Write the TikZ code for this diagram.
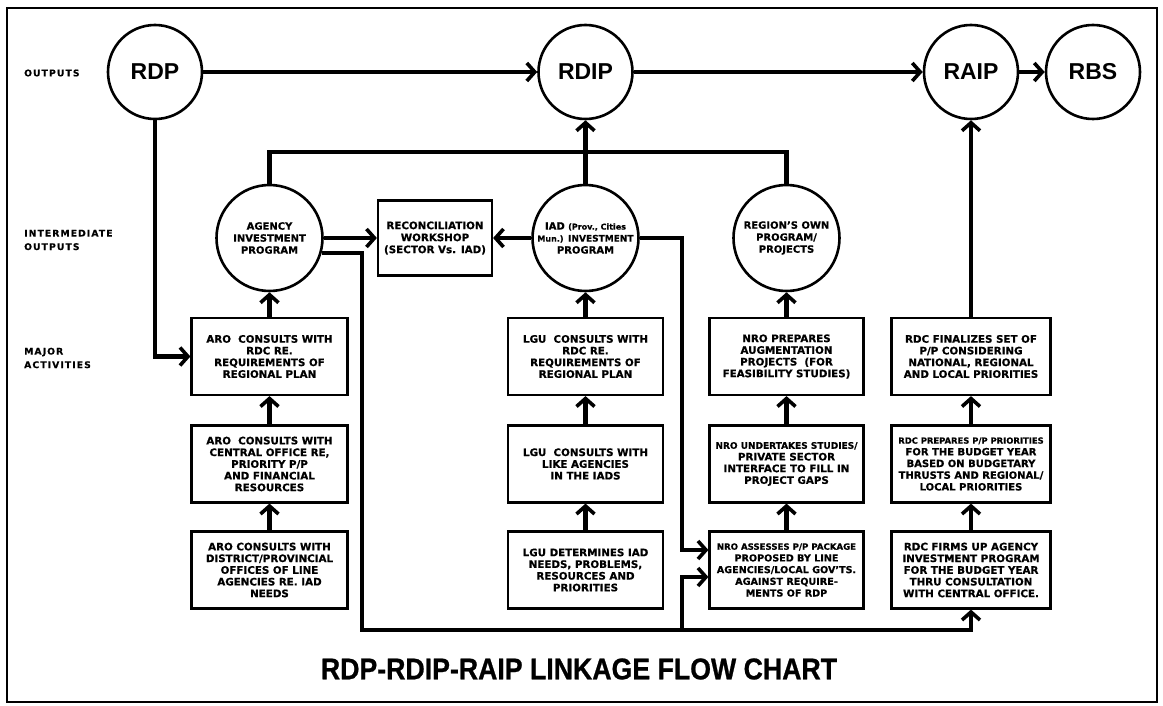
\documentclass[tikz,border=0pt]{standalone}
\usepackage{fontspec}
\setmainfont{DejaVu Sans}[BoldFeatures={FakeBold=0.7}]
\newfontfamily\circfont{Liberation Sans}
\newfontfamily\titlefont{Liberation Sans}[FakeStretch=0.89,BoldFeatures={FakeBold=0.8}]
\newfontfamily\sidefont{DejaVu Sans}[LetterSpace=12,BoldFeatures={FakeBold=0.5}]
\usetikzlibrary{arrows.meta}

\begin{document}
\begin{tikzpicture}[x=1pt,y=-1pt,
  conn/.style={line width=4.5pt,
    -{Straight Barb[length=8pt,width=18pt,line width=3.6pt]}},
  link/.style={line width=4.5pt},
  taskbox/.style={draw, line width=2.2pt, minimum width=156pt,
    minimum height=77pt, align=center, inner sep=2pt,
    font=\bfseries\fontsize{10.3}{11.7}\selectfont},
  outcircle/.style={draw, circle, line width=2.6pt, minimum size=94pt,
    inner sep=0pt, font=\circfont\bfseries\fontsize{23}{26}\selectfont},
  midcircle/.style={draw, circle, line width=2.6pt, minimum size=106pt,
    inner sep=0pt, align=center,
    font=\bfseries\fontsize{10}{12}\selectfont},
  sidelabel/.style={anchor=west, align=left, inner sep=0pt,
    font=\sidefont\bfseries\fontsize{9.2}{13.5}\selectfont},
]
\useasboundingbox (0,0) rectangle (1163,706);

% frame
\draw[line width=2pt] (7,8) rectangle (1157,702);

% row labels
\node[sidelabel] (lblout) at (24,73) {OUTPUTS};
\node[sidelabel] (lblmid) at (24,240) {INTERMEDIATE\\OUTPUTS};
\node[sidelabel] (lblmaj) at (24,358) {MAJOR\\ACTIVITIES};

% outputs
\node[outcircle] (rdp)  at (155,72)   {RDP};
\node[outcircle] (rdip) at (585.5,72) {RDIP};
\node[outcircle] (raip) at (971,72)   {RAIP};
\node[outcircle] (rbs)  at (1093,72)  {RBS};

% intermediate outputs
\node[midcircle] (agency) at (269.5,238) {AGENCY\\INVESTMENT\\PROGRAM};
\node[midcircle] (iad) at (585.5,238)
  {IAD {\fontsize{8}{12}\selectfont(Prov., Cities}\\{\fontsize{8}{12}\selectfont Mun.)}
   {\fontsize{9}{12}\selectfont INVESTMENT}\\PROGRAM};
\node[midcircle] (region) at (786.5,238) {REGION'S OWN\\PROGRAM/\\PROJECTS};
\node[draw, line width=2.2pt, minimum width=114pt, minimum height=75pt,
  align=center, inner sep=2pt, font=\bfseries\fontsize{10.3}{12}\selectfont]
  (recon) at (435,238) {RECONCILIATION\\WORKSHOP\\(SECTOR Vs. IAD)};

% major activities: agency column
\node[taskbox] (aro1) at (269.5,356.5)
  {ARO\ \ CONSULTS WITH\\RDC RE.\\REQUIREMENTS OF\\REGIONAL PLAN};
\node[taskbox] (aro2) at (269.5,464)
  {ARO\ \ CONSULTS WITH\\CENTRAL OFFICE RE,\\PRIORITY P/P\\AND FINANCIAL\\RESOURCES};
\node[taskbox] (aro3) at (269.5,570)
  {ARO CONSULTS WITH\\DISTRICT/PROVINCIAL\\OFFICES OF LINE\\AGENCIES RE. IAD\\NEEDS};

% local government column
\node[taskbox, minimum width=155pt] (lgu1) at (585.5,356.5)
  {LGU\ \ CONSULTS WITH\\RDC RE.\\REQUIREMENTS OF\\REGIONAL PLAN};
\node[taskbox, minimum width=155pt] (lgu2) at (585.5,464)
  {LGU\ \ CONSULTS WITH\\LIKE AGENCIES\\IN THE IADS};
\node[taskbox, minimum width=155pt] (lgu3) at (585.5,570)
  {LGU DETERMINES IAD\\NEEDS, PROBLEMS,\\RESOURCES AND\\PRIORITIES};

% regional office column
\node[taskbox, minimum width=154pt] (nro1) at (786.5,356.5)
  {NRO PREPARES\\AUGMENTATION\\PROJECTS\ \ (FOR\\FEASIBILITY STUDIES)};
\node[taskbox, minimum width=154pt] (nro2) at (786.5,464)
  {{\fontsize{9}{11.7}\selectfont NRO UNDERTAKES STUDIES/}\\PRIVATE SECTOR\\INTERFACE TO FILL IN\\PROJECT GAPS};
\node[taskbox, minimum width=154pt, font=\bfseries\fontsize{9.6}{11.7}\selectfont] (nro3) at (786.5,570)
  {{\fontsize{8.6}{11.7}\selectfont NRO ASSESSES P/P PACKAGE}\\PROPOSED BY LINE\\AGENCIES/LOCAL GOV'TS.\\AGAINST REQUIRE-\\MENTS OF RDP};

% development council column
\node[taskbox, minimum width=159pt] (rdc1) at (971,356.5)
  {RDC FINALIZES SET OF\\P/P CONSIDERING\\NATIONAL, REGIONAL\\AND LOCAL PRIORITIES};
\node[taskbox, minimum width=159pt, font=\bfseries\fontsize{10}{11.7}\selectfont] (rdc2) at (971,464)
  {{\fontsize{8.4}{11.7}\selectfont RDC PREPARES P/P PRIORITIES}\\FOR THE BUDGET YEAR\\BASED ON BUDGETARY\\THRUSTS AND REGIONAL/\\LOCAL PRIORITIES};
\node[taskbox, minimum width=159pt] (rdc3) at (971,570)
  {RDC FIRMS UP AGENCY\\INVESTMENT PROGRAM\\FOR THE BUDGET YEAR\\THRU CONSULTATION\\WITH CENTRAL OFFICE.};

% title
\node[font=\titlefont\bfseries\fontsize{30}{33}\selectfont] (title) at (579,669)
  {RDP-RDIP-RAIP LINKAGE FLOW CHART};

% routing points
\coordinate (bar) at (0,152);
\coordinate (loopA) at (362,630);
\coordinate (brB) at (682,630);

% outputs chain
\draw[conn] (rdp) -- (rdip);
\draw[conn] (rdip) -- (raip);
\draw[conn] (raip) -- (rbs);
\draw[conn] (rdp.south) |- (aro1.west);

% intermediate outputs feed the RDIP
\draw[link] (agency.north) -- (agency.north |- bar) -- (region.north |- bar) -- (region.north);
\draw[link] (iad.north) -- (iad.north |- bar);
\draw[conn] (iad.north |- bar) -- (rdip.south);

% reconciliation
\draw[conn] (agency.east) -- (recon.west);
\draw[conn] (iad.west) -- (recon.east);

% bypass routes to the NRO and RDC
\draw[conn] (agency.-16) -| (loopA) -| (rdc3.south);
\draw[conn] (brB) |- ([yshift=-7pt]nro3.west);
\draw[conn] (iad.east) -- (iad.east -| brB) |- ([yshift=20pt]nro3.west);

% column flows
\foreach \c in {aro,lgu,nro,rdc} {
  \draw[conn] (\c3) -- (\c2);
  \draw[conn] (\c2) -- (\c1);
}
\draw[conn] (aro1) -- (agency);
\draw[conn] (lgu1) -- (iad);
\draw[conn] (nro1) -- (region);
\draw[conn] (rdc1) -- (raip);
\end{tikzpicture}
\end{document}
